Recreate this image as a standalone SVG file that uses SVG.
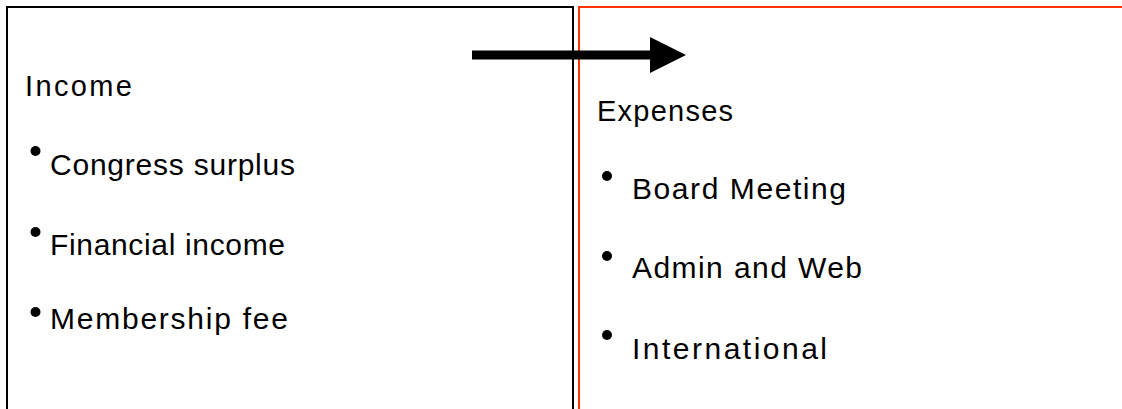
<svg xmlns="http://www.w3.org/2000/svg" width="1122" height="409" viewBox="0 0 1122 409">
<style>
.t{font-family:"Liberation Sans","DejaVu Sans",sans-serif;font-size:30px;fill:#000}
.h{font-size:29px}
.b{fill:#000}
</style>
<rect width="1122" height="409" fill="#fff"/>
<g id="income">
<rect x="7" y="7" width="566" height="420" fill="none" stroke="#000" stroke-width="2"/>
<text class="t h" x="25" y="96" textLength="107">Income</text>
<circle class="b" cx="35.5" cy="151" r="5"/>
<text class="t" x="50" y="175" textLength="245">Congress surplus</text>
<circle class="b" cx="35.5" cy="232" r="5"/>
<text class="t" x="50" y="255" textLength="235">Financial income</text>
<circle class="b" cx="35.5" cy="312" r="5"/>
<text class="t" x="50" y="329" textLength="238">Membership fee</text>
</g>
<g id="expenses">
<rect x="579" y="7" width="560" height="420" fill="none" stroke="#ff3300" stroke-width="2"/>
<text class="t h" x="597" y="121" textLength="136">Expenses</text>
<circle class="b" cx="607" cy="176" r="5"/>
<text class="t" x="632" y="199" textLength="214">Board Meeting</text>
<circle class="b" cx="607" cy="256" r="5"/>
<text class="t" x="632" y="278" textLength="230">Admin and Web</text>
<circle class="b" cx="607" cy="335" r="5"/>
<text class="t" x="632" y="359" textLength="195">International</text>
</g>
<g id="connectors">
<rect x="472" y="50.5" width="180" height="9" fill="#000"/>
<polygon points="650,37 686,55 650,73" fill="#000"/>
</g>
</svg>
